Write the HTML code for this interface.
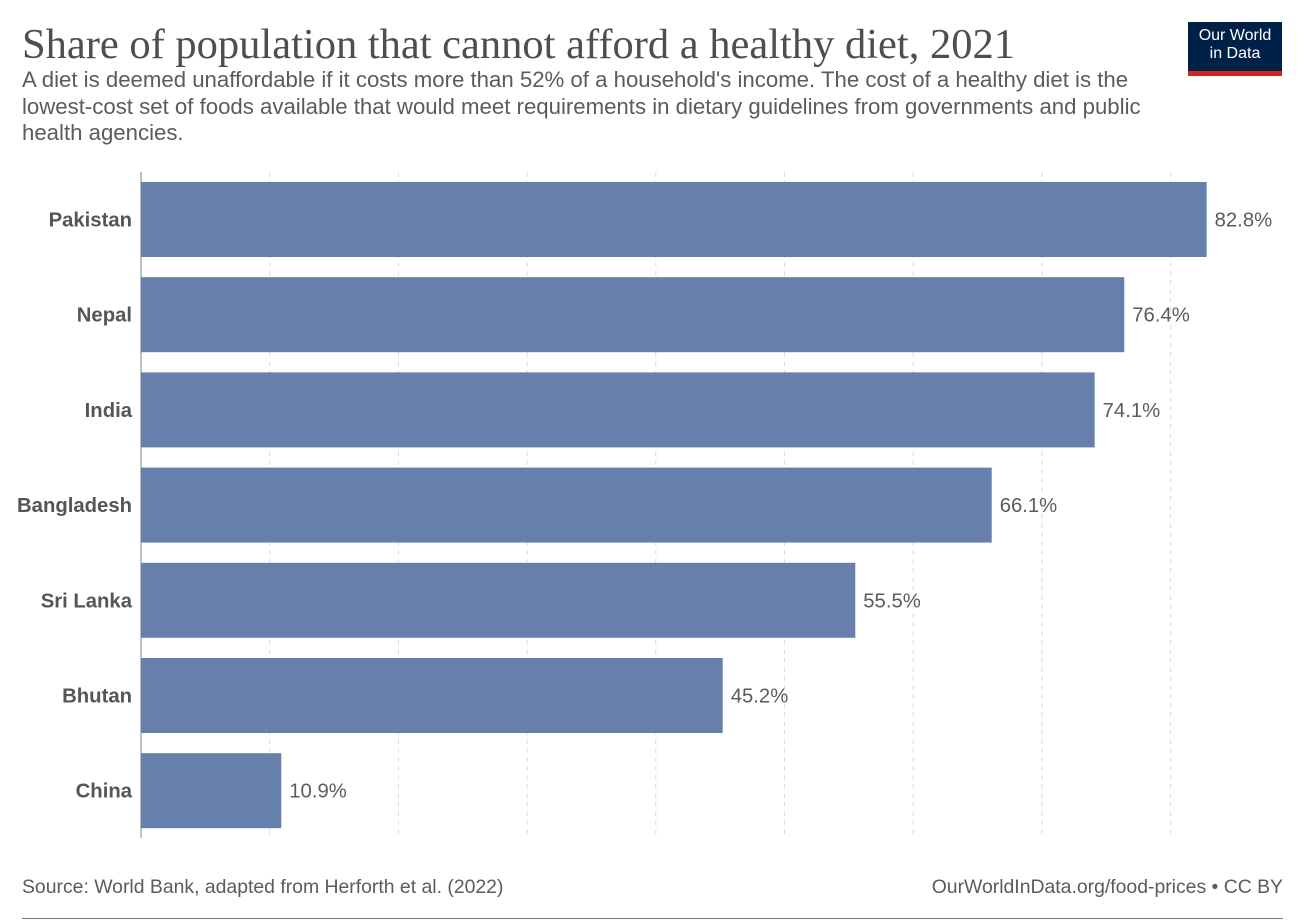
<!DOCTYPE html>
<html><head><meta charset="utf-8">
<style>
body{margin:0;background:#fff;width:1305px;height:921px;overflow:hidden;font-family:"Liberation Sans",sans-serif;}
#title{position:absolute;left:22px;top:20px;font-family:"Liberation Serif",serif;font-size:42.5px;color:#4e4e4e;white-space:nowrap;}
#sub{position:absolute;left:22px;top:67px;width:1160px;font-size:22.2px;line-height:26.5px;color:#5b5b5b;white-space:nowrap;}
#logo{position:absolute;left:1188px;top:22px;width:94px;height:54px;background:#002147;color:#fff;font-size:16px;line-height:18px;text-align:center;box-sizing:border-box;padding-top:5px;}
#logo div.red{position:absolute;left:0;bottom:0;width:94px;height:5px;background:#ce261e;}
.foot{position:absolute;top:876px;font-size:19.4px;color:#5b5b5b;}
#rule{position:absolute;left:22px;top:918px;width:1261px;height:1px;background:#777;}
</style></head><body>
<div id="title">Share of population that cannot afford a healthy diet, 2021</div>
<div id="sub">A diet is deemed unaffordable if it costs more than 52% of a household's income. The cost of a healthy diet is the<br>lowest-cost set of foods available that would meet requirements in dietary guidelines from governments and public<br>health agencies.</div>
<div id="logo">Our World<br>in Data<div class="red"></div></div>
<svg id="chart" width="1305" height="921" style="position:absolute;left:0;top:0"></svg>
<div class="foot" style="left:22px">Source: World Bank, adapted from Herforth et al. (2022)</div>
<div class="foot" style="right:22px">OurWorldInData.org/food-prices • CC BY</div>
<div id="rule"></div>
<script>
const categories=["Pakistan","Nepal","India","Bangladesh","Sri Lanka","Bhutan","China"];
const values=[82.8,76.4,74.1,66.1,55.5,45.2,10.9];
const gridTicks=[10,20,30,40,50,60,70,80];
const NS="http://www.w3.org/2000/svg";
const svg=document.getElementById('chart');
const x0=141,pxPer=12.87,top0=182,pitch=95.2,bh=75;
const xs=v=>x0+v*pxPer;
const ys=i=>top0+i*pitch;
function mk(t,a){const e=document.createElementNS(NS,t);for(const k in a)e.setAttribute(k,a[k]);svg.appendChild(e);return e;}
gridTicks.forEach(t=>{
 const l=mk('line',{x1:xs(t),x2:xs(t),y1:172,y2:838,stroke:'#ddd','stroke-dasharray':'5,4','stroke-width':1});
 
 
});
const ax=mk('line',{x1:x0,x2:x0,y1:172,y2:838,stroke:'#aaa','stroke-width':1.5});


categories.forEach((c,i)=>{
 const y=ys(i);
 const r=mk('rect',{x:x0,y:y,width:xs(values[i])-x0,height:bh,fill:'#6780ab'});
 
 
 const lb=mk('text',{x:132,y:y+bh/2+7,'text-anchor':'end','font-size':'20.3','font-weight':'bold',fill:'#555'});
 lb.textContent=c;
 
 
 const vl=mk('text',{x:xs(values[i])+8,y:y+bh/2+7,'font-size':'20.3',fill:'#5b5b5b'});
 vl.textContent=values[i].toFixed(1)+'%';
 
 
});
</script>
</body></html>
